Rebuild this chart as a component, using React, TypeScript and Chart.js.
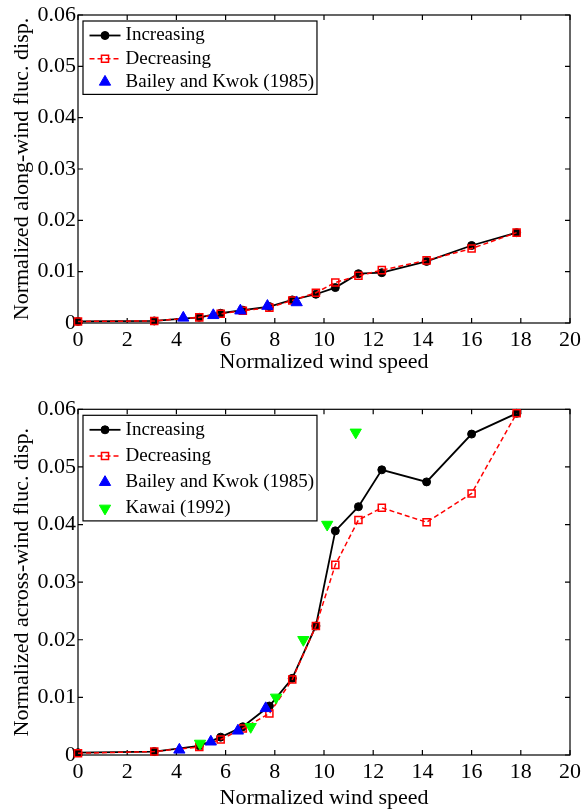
import React, { useEffect, useRef } from 'react';
import { Chart, registerables } from 'chart.js';

Chart.register(...registerables);

// ---------- data ----------
const windSpeed = [0, 3.1, 4.93, 5.8, 6.7, 7.78, 8.71, 9.67, 10.46, 11.4, 12.35, 14.17, 16.0, 17.83];

const alongIncreasing = [0.0003, 0.0004, 0.0011, 0.0019, 0.0025, 0.0032, 0.0045, 0.0056, 0.0069, 0.0096, 0.0098, 0.0120, 0.0151, 0.0176];
const alongDecreasing = [0.0003, 0.0004, 0.0011, 0.0018, 0.0024, 0.0030, 0.0044, 0.0059, 0.0079, 0.0092, 0.0103, 0.0122, 0.0145, 0.0176];
const alongBaileyX = [4.28, 5.5, 6.6, 7.7, 8.89];
const alongBaileyY = [0.0010, 0.0015, 0.0024, 0.0033, 0.0040];

const acrossIncreasing = [0.0004, 0.0006, 0.0016, 0.0031, 0.0049, 0.0085, 0.0133, 0.0224, 0.0389, 0.0431, 0.0495, 0.0474, 0.0557, 0.0593];
const acrossDecreasing = [0.0003, 0.0006, 0.0014, 0.0027, 0.0046, 0.0072, 0.0131, 0.0224, 0.0330, 0.0408, 0.0429, 0.0404, 0.0454, 0.0593];
const acrossBaileyX = [4.12, 5.4, 6.5, 7.63];
const acrossBaileyY = [0.0009, 0.0023, 0.0042, 0.0081];
const kawaiX = [4.96, 7.02, 8.05, 9.16, 10.13, 11.29];
const kawaiY = [0.0020, 0.0049, 0.0100, 0.0200, 0.0400, 0.0560];

const xTickLabels = ['0', '2', '4', '6', '8', '10', '12', '14', '16', '18', '20'];
const yTickLabels = ['0', '0.01', '0.02', '0.03', '0.04', '0.05', '0.06'];

const seriesNames = ['Increasing', 'Decreasing', 'Bailey and Kwok (1985)', 'Kawai (1992)'];
const xTitle = 'Normalized wind speed';
const yTitleAlong = 'Normalized along-wind fluc. disp.';
const yTitleAcross = 'Normalized across-wind fluc. disp.';

const FONT = "'Liberation Serif', 'Times New Roman', serif";

const pts = (xs: number[], ys: number[]) => xs.map((x, i) => ({ x, y: ys[i] }));

// ---------- plugins ----------
const framePlugin = {
  id: 'frame',
  beforeDatasetsDraw(chart: any) {
    const { ctx, chartArea: a, scales } = chart;
    const xs = scales.x, ys = scales.y;
    ctx.save();
    ctx.strokeStyle = '#000';
    ctx.lineWidth = 1.2;
    ctx.strokeRect(a.left, a.top, a.right - a.left, a.bottom - a.top);
    const t = 5;
    ctx.beginPath();
    xs.ticks.forEach((tk: any) => {
      const px = xs.getPixelForValue(tk.value);
      ctx.moveTo(px, a.bottom); ctx.lineTo(px, a.bottom - t);
      ctx.moveTo(px, a.top); ctx.lineTo(px, a.top + t);
    });
    ys.ticks.forEach((tk: any) => {
      const py = ys.getPixelForValue(tk.value);
      ctx.moveTo(a.left, py); ctx.lineTo(a.left + t, py);
      ctx.moveTo(a.right, py); ctx.lineTo(a.right - t, py);
    });
    ctx.stroke();
    ctx.restore();
  },
};

function drawMarker(ctx: CanvasRenderingContext2D, style: string, r: number, rot: number, x: number, y: number) {
  ctx.beginPath();
  if (style === 'circle') {
    ctx.arc(x, y, r, 0, Math.PI * 2);
  } else if (style === 'rect') {
    const s = Math.SQRT1_2 * r;
    ctx.rect(x - s, y - s, 2 * s, 2 * s);
  } else if (style === 'triangle') {
    let rad = (rot * Math.PI) / 180;
    ctx.moveTo(x + Math.sin(rad) * r, y - Math.cos(rad) * r);
    rad += (2 * Math.PI) / 3;
    ctx.lineTo(x + Math.sin(rad) * r, y - Math.cos(rad) * r);
    rad += (2 * Math.PI) / 3;
    ctx.lineTo(x + Math.sin(rad) * r, y - Math.cos(rad) * r);
    ctx.closePath();
  }
  ctx.fill();
  ctx.stroke();
}

const boxLegendPlugin = {
  id: 'boxLegend',
  afterDatasetsDraw(chart: any, _args: any, opts: any) {
    const { ctx, chartArea: a } = chart;
    const items = chart.data.datasets;
    const rowH = opts.rowHeight || 23;
    const left = a.left + 5;
    const top = a.top + 6;
    ctx.save();
    ctx.font = `19px ${FONT}`;
    const textX = left + 42.6;
    let maxW = 0;
    items.forEach((d: any) => { maxW = Math.max(maxW, ctx.measureText(d.label).width); });
    const w = textX + maxW + 3 - left;
    const h = 14.5 + (items.length - 1) * rowH + 12.5;
    ctx.fillStyle = '#fff';
    ctx.fillRect(left, top, w, h);
    ctx.strokeStyle = '#000';
    ctx.lineWidth = 1.2;
    ctx.strokeRect(left, top, w, h);
    items.forEach((d: any, i: number) => {
      const cy = top + 14.5 + i * rowH;
      if (d.showLine) {
        ctx.save();
        ctx.strokeStyle = d.borderColor;
        ctx.lineWidth = d.borderWidth;
        ctx.setLineDash(d.borderDash || []);
        ctx.beginPath();
        ctx.moveTo(left + 6.5, cy);
        ctx.lineTo(left + 37.5, cy);
        ctx.stroke();
        ctx.restore();
      }
      ctx.save();
      ctx.fillStyle = d.pointBackgroundColor;
      ctx.strokeStyle = d.pointBorderColor;
      ctx.lineWidth = d.pointBorderWidth;
      drawMarker(ctx, d.pointStyle, d.pointRadius, d.pointRotation || 0, left + 22, cy);
      ctx.restore();
      ctx.fillStyle = '#000';
      ctx.textBaseline = 'middle';
      ctx.textAlign = 'left';
      ctx.fillText(d.label, textX, cy);
    });
    ctx.restore();
  },
};

// ---------- dataset builders ----------
const increasingDs = (ys: number[]) => ({
  label: seriesNames[0],
  data: pts(windSpeed, ys),
  showLine: true,
  borderColor: '#000',
  borderWidth: 1.8,
  pointStyle: 'circle',
  pointRadius: 4,
  pointBackgroundColor: '#000',
  pointBorderColor: '#000',
  pointBorderWidth: 1,
  order: 4,
  clip: false as any,
});

const decreasingDs = (ys: number[]) => ({
  label: seriesNames[1],
  data: pts(windSpeed, ys),
  showLine: true,
  borderColor: '#ff0000',
  borderWidth: 1.5,
  borderDash: [5, 3],
  pointStyle: 'rect',
  pointRadius: 5,
  pointBackgroundColor: 'rgba(255,255,255,0)',
  pointBorderColor: '#ff0000',
  pointBorderWidth: 1.5,
  order: 3,
  clip: false as any,
});

const baileyDs = (xs: number[], ys: number[]) => ({
  label: seriesNames[2],
  data: pts(xs, ys),
  showLine: false,
  borderColor: '#0000ff',
  pointStyle: 'triangle',
  pointRadius: 6.5,
  pointBackgroundColor: '#0000ff',
  pointBorderColor: '#0000ff',
  pointBorderWidth: 1,
  order: 2,
  clip: false as any,
});

const kawaiDs = () => ({
  label: seriesNames[3],
  data: pts(kawaiX, kawaiY),
  showLine: false,
  borderColor: '#00ff00',
  pointStyle: 'triangle',
  pointRotation: 180,
  pointRadius: 6.5,
  pointBackgroundColor: '#00ff00',
  pointBorderColor: '#00ff00',
  pointBorderWidth: 1,
  order: 1,
  clip: false as any,
});

function makeOptions(p: { yTitle: string; xHeight: number; padTop: number; titlePadBottom: number; rowHeight: number }) {
  return {
    responsive: false,
    animation: false as const,
    devicePixelRatio: 1,
    layout: { padding: { left: 0, right: 13, top: p.padTop, bottom: 0 } },
    plugins: {
      legend: { display: false },
      tooltip: { enabled: false },
      boxLegend: { rowHeight: p.rowHeight },
    },
    scales: {
      x: {
        type: 'linear' as const,
        min: 0,
        max: 20,
        grid: { display: false, drawTicks: false },
        border: { display: false },
        ticks: {
          stepSize: 2,
          padding: 4,
          color: '#000',
          maxRotation: 0,
          font: { family: FONT, size: 22 },
          callback: (v: any) => xTickLabels[Math.round(Number(v) / 2)],
        },
        title: {
          display: true,
          text: xTitle,
          color: '#000',
          font: { family: FONT, size: 22 },
          padding: { top: 0, bottom: p.titlePadBottom },
        },
        afterFit: (s: any) => {
          s.height = p.xHeight;
          s.paddingLeft = 0;
          s.paddingRight = 0;
        },
      },
      y: {
        type: 'linear' as const,
        min: 0,
        max: 0.06,
        grid: { display: false, drawTicks: false },
        border: { display: false },
        ticks: {
          stepSize: 0.01,
          padding: 2,
          color: '#000',
          font: { family: FONT, size: 22 },
          callback: (v: any) => yTickLabels[Math.round(Number(v) / 0.01)],
        },
        title: {
          display: true,
          text: p.yTitle,
          color: '#000',
          font: { family: FONT, size: 22 },
          padding: { top: 9, bottom: 0 },
        },
        afterFit: (s: any) => {
          s.width = 78;
          s.paddingTop = 0;
          s.paddingBottom = 0;
        },
      },
    },
  };
}

export default function App() {
  const topRef = useRef<HTMLCanvasElement>(null);
  const botRef = useRef<HTMLCanvasElement>(null);

  useEffect(() => {
    const c1 = new Chart(topRef.current as HTMLCanvasElement, {
      type: 'scatter',
      data: {
        datasets: [
          increasingDs(alongIncreasing),
          decreasingDs(alongDecreasing),
          baileyDs(alongBaileyX, alongBaileyY),
        ] as any,
      },
      options: makeOptions({ yTitle: yTitleAlong, xHeight: 72, padTop: 15, titlePadBottom: 19.8, rowHeight: 23.2 }) as any,
      plugins: [framePlugin, boxLegendPlugin],
    });
    const c2 = new Chart(botRef.current as HTMLCanvasElement, {
      type: 'scatter',
      data: {
        datasets: [
          increasingDs(acrossIncreasing),
          decreasingDs(acrossDecreasing),
          baileyDs(acrossBaileyX, acrossBaileyY),
          kawaiDs(),
        ] as any,
      },
      options: makeOptions({ yTitle: yTitleAcross, xHeight: 57, padTop: 14.3, titlePadBottom: 0.8, rowHeight: 26.2 }) as any,
      plugins: [framePlugin, boxLegendPlugin],
    });
    return () => {
      c1.destroy();
      c2.destroy();
    };
  }, []);

  return (
    <div style={{ position: 'absolute', left: 0, top: 0, width: 583, height: 812, background: '#fff' }}>
      <canvas ref={topRef} width={583} height={395} style={{ display: 'block', position: 'absolute', left: 0, top: 0 }} />
      <canvas ref={botRef} width={583} height={417} style={{ display: 'block', position: 'absolute', left: 0, top: 395 }} />
    </div>
  );
}
